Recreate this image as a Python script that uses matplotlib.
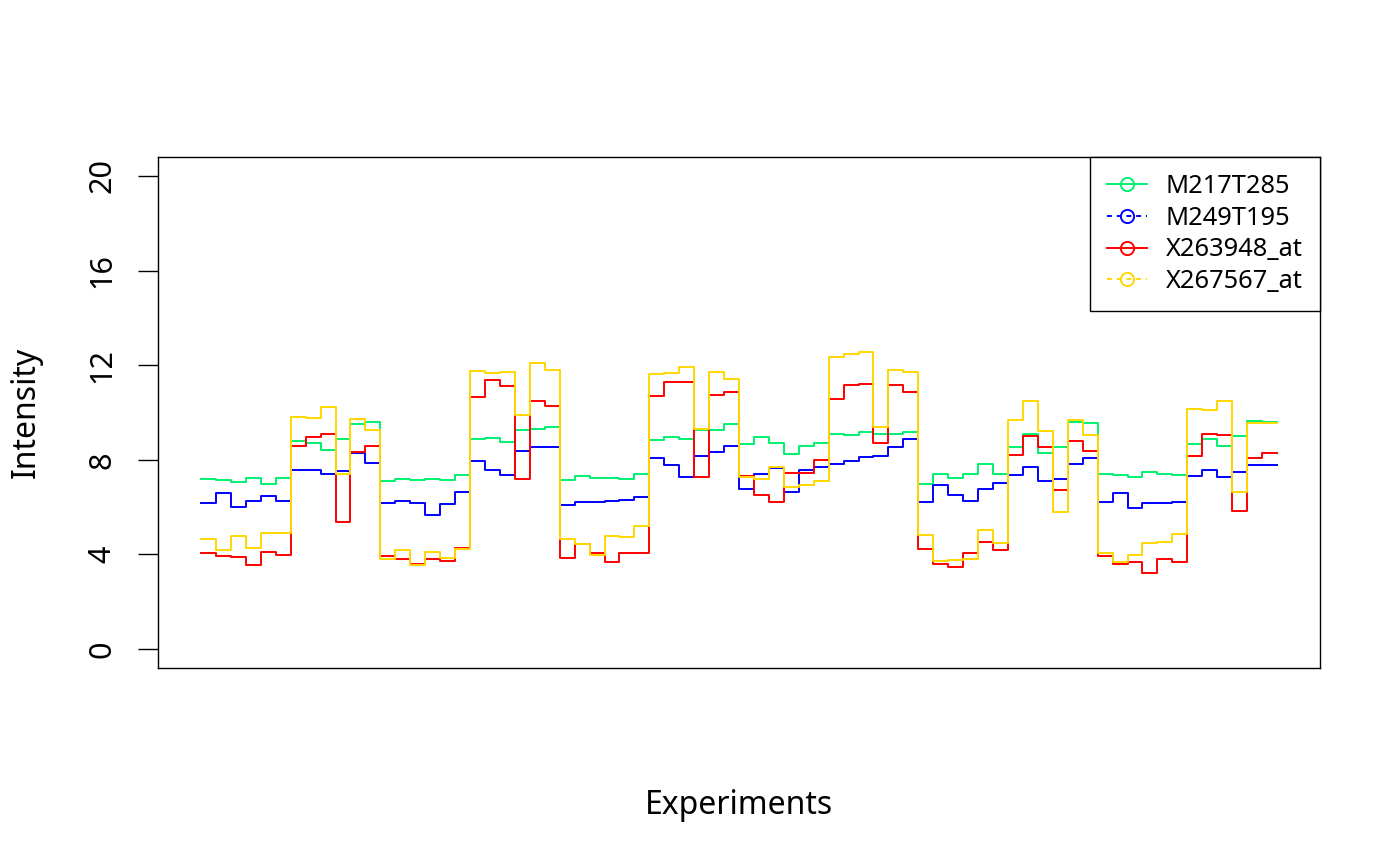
import numpy as np
import matplotlib.pyplot as plt
from matplotlib.lines import Line2D

plt.rcParams['font.family'] = ['Noto Sans', 'DejaVu Sans']

# one value per experiment (73 experiments)
experiments = np.arange(1, 74)

m217t285 = [7.18, 7.13, 7.06, 7.24, 6.99, 7.24, 8.80, 8.69, 8.42, 8.87, 9.52, 9.59,
            7.10, 7.21, 7.13, 7.21, 7.13, 7.34, 8.90, 8.91, 8.77, 9.25, 9.32, 9.39,
            7.13, 7.31, 7.22, 7.22, 7.17, 7.40, 8.83, 8.95, 8.86, 9.24, 9.24, 9.53,
            8.65, 8.97, 8.69, 8.24, 8.60, 8.69, 9.11, 9.07, 9.19, 9.10, 9.10, 9.18,
            6.99, 7.38, 7.24, 7.42, 7.84, 7.40, 8.55, 9.10, 8.30, 8.53, 9.59, 9.56,
            7.38, 7.35, 7.27, 7.49, 7.41, 7.34, 8.65, 8.89, 8.58, 9.00, 9.63, 9.61,
            9.61]

m249t195 = [6.19, 6.61, 6.02, 6.26, 6.47, 6.24, 7.59, 7.57, 7.41, 7.52, 8.29, 7.87,
            6.19, 6.26, 6.16, 5.67, 6.12, 6.62, 7.94, 7.59, 7.34, 8.39, 8.53, 8.53,
            6.07, 6.23, 6.23, 6.27, 6.30, 6.41, 8.08, 7.76, 7.27, 8.18, 8.32, 8.59,
            6.76, 7.38, 7.66, 6.65, 7.56, 7.70, 7.83, 7.94, 8.13, 8.18, 8.55, 8.90,
            6.21, 6.92, 6.51, 6.26, 6.75, 7.03, 7.34, 7.69, 7.10, 7.17, 7.83, 8.06,
            6.20, 6.61, 5.95, 6.19, 6.19, 6.23, 7.31, 7.58, 7.28, 7.48, 7.76, 7.80,
            7.80]

x263948_at = [4.08, 3.94, 3.89, 3.54, 4.10, 3.96, 8.58, 8.95, 9.10, 5.37, 8.34, 8.58,
              3.94, 3.80, 3.58, 3.80, 3.73, 4.26, 10.64, 11.36, 11.11, 7.20, 10.50, 10.29,
              3.84, 4.43, 4.08, 3.66, 4.04, 4.08, 10.68, 11.29, 11.27, 7.27, 10.75, 10.85,
              7.31, 6.51, 6.23, 7.44, 7.44, 8.01, 10.57, 11.15, 11.21, 8.72, 11.15, 10.85,
              4.22, 3.58, 3.49, 4.04, 4.53, 4.19, 8.22, 9.00, 8.55, 6.71, 8.81, 8.36,
              3.94, 3.58, 3.68, 3.21, 3.80, 3.70, 8.15, 9.10, 9.04, 5.83, 8.08, 8.30,
              8.30]

x267567_at = [4.64, 4.18, 4.77, 4.27, 4.91, 4.91, 9.81, 9.78, 10.25, 7.41, 9.73, 9.28,
              3.80, 4.19, 3.54, 4.10, 3.83, 4.22, 11.77, 11.67, 11.71, 9.91, 12.09, 11.81,
              4.67, 4.43, 3.96, 4.77, 4.74, 5.22, 11.61, 11.67, 11.91, 9.31, 11.72, 11.43,
              7.27, 7.21, 7.69, 6.85, 6.92, 7.10, 12.33, 12.48, 12.55, 9.39, 11.78, 11.72,
              4.81, 3.73, 3.75, 3.80, 5.02, 4.50, 9.69, 10.47, 9.21, 5.79, 9.70, 9.04,
              4.08, 3.68, 3.99, 4.47, 4.53, 4.88, 10.16, 10.09, 10.50, 6.64, 9.55, 9.55,
              9.55]

names = ['M217T285', 'M249T195', 'X263948_at', 'X267567_at']
colors = ['#00F070', '#0000FF', '#FF0000', '#FFD700']
legend_styles = ['-', (0, (2.5, 2.5)), '-', (0, (2.5, 2.5))]
series = [m217t285, m249t195, x263948_at, x267567_at]

fig = plt.figure(figsize=(14, 8.65), dpi=100)
ax = fig.add_axes([158 / 1400, 197 / 865, 1162 / 1400, 511 / 865])

for vals, col in zip(series, colors):
    ax.plot(experiments, vals, drawstyle='steps-post', color=col, lw=1.4)

n = len(experiments)
ax.set_xlim(1 - 0.04 * (n - 1), n + 0.04 * (n - 1))
ax.set_ylim(-0.8, 20.8)
ax.set_xticks([])
ax.set_yticks([0, 4, 8, 12, 16, 20])
ax.tick_params(axis='y', length=14.4, width=1, pad=15, labelsize=22, labelrotation=90)
for lab in ax.get_yticklabels():
    lab.set_va('center')
for sp in ax.spines.values():
    sp.set_linewidth(1)
    sp.set_color('black')

ax.set_ylabel('Intensity', fontsize=23, labelpad=32)
ax.set_xlabel('Experiments', fontsize=23, labelpad=87)

handles = [Line2D([], [], color=c, ls=s, lw=1.4, marker='o', markersize=9.5,
                  markerfacecolor='none', markeredgewidth=1.4)
           for c, s in zip(colors, legend_styles)]
leg = ax.legend(handles, names, loc='upper right', borderaxespad=0, fontsize=18.3,
                fancybox=False, framealpha=1, edgecolor='black', handlelength=1.55,
                labelspacing=0.26, handletextpad=0.75, borderpad=0.68)
leg.get_frame().set_linewidth(1)

fig.savefig('out.png', dpi=100)
